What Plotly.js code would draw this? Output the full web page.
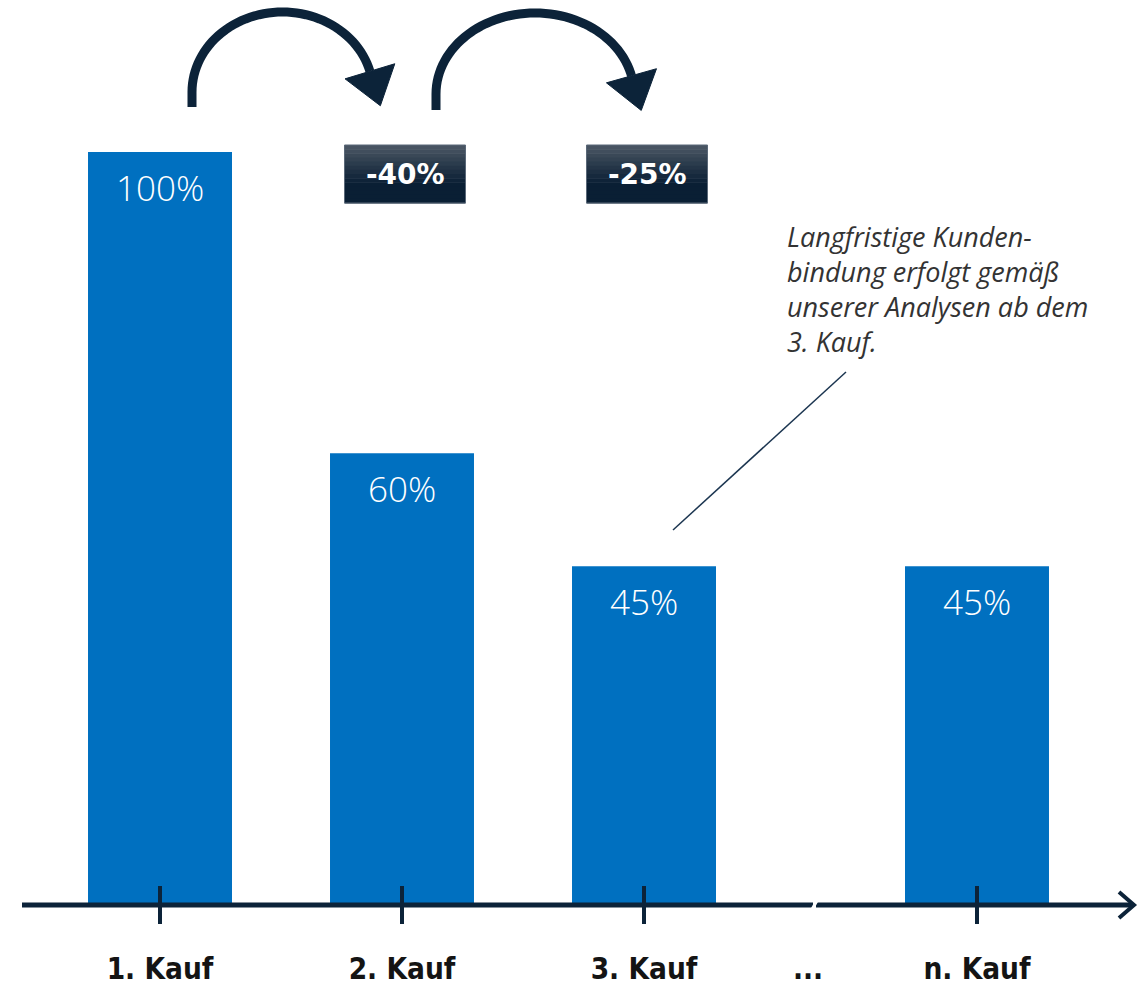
<!DOCTYPE html>
<html><head><meta charset="utf-8">
<script src="https://cdn.plot.ly/plotly-3.0.1.min.js"></script>
<style>html,body{margin:0;padding:0;background:#fff}#chart{width:1145px;height:987px}</style>
</head><body><div id="chart"></div>
<script>
// ---- data ----
const categories = ["1. Kauf", "2. Kauf", "3. Kauf", "n. Kauf"];
const values = [100, 60, 45, 45];
const gapLabel = "...";
const noteLines = ["Langfristige Kunden-", "bindung erfolgt gemäß", "unserer Analysen ab dem", "3. Kauf."];
const shownChanges = 2; // drops shown between first bars

// ---- layout geometry ----
const W = 1145, H = 987, AX = 905;          // axis pixel row
const xPos = [0, 1, 2, 3.376];
const gapPos = 2.678;
const unit = 242, x0px = 160;
const xr = [-x0px / unit, (W - x0px) / unit];
const yTop = AX / 7.53;
const NAVY = '#0c2339';
const BLUE = '#0070c0';
const px = u => x0px + u * unit;
const PX = p => p / W;                 // pixel x -> paper
const PY = p => (AX - p) / AX;         // pixel y -> paper

const shapes = [];
const annotations = [];

// axis line with break and open arrowhead
shapes.push({type:'line', xref:'paper', yref:'paper', x0:PX(22), x1:PX(813), y0:PY(AX), y1:PY(AX), line:{color:NAVY, width:5}});
shapes.push({type:'line', xref:'paper', yref:'paper', x0:PX(816), x1:PX(1133), y0:PY(AX), y1:PY(AX), line:{color:NAVY, width:5}});
shapes.push({type:'line', xref:'paper', yref:'paper', x0:PX(810), x1:PX(819), y0:PY(913), y1:PY(897), line:{color:'#ffffff', width:3}});
shapes.push({type:'path', xref:'paper', yref:'paper',
  path:`M${PX(1119)},${PY(892)} L${PX(1134)},${PY(AX)} L${PX(1119)},${PY(918)}`,
  line:{color:NAVY, width:4}});
// ticks crossing the axis
xPos.forEach(u => {
  shapes.push({type:'line', xref:'paper', yref:'paper', x0:PX(px(u)), x1:PX(px(u)), y0:PY(886), y1:PY(924), line:{color:NAVY, width:4}});
});

// curved arrows + change boxes
const arrows = [
  {lx:192, leg:107, cx:282.5, cy:92, rx:90.5, ry:80, end:15},
  {lx:436, leg:110, cx:535, cy:94, rx:99, ry:81, end:13}
];
for (let i = 0; i < shownChanges; i++) {
  const a = arrows[i];
  let pts = [[a.lx, a.leg], [a.lx, a.cy]];
  for (let d = 180; d >= a.end; d -= 3) {
    const t = d * Math.PI / 180;
    pts.push([a.cx + a.rx * Math.cos(t), a.cy - a.ry * Math.sin(t)]);
  }
  const te = a.end * Math.PI / 180;
  const E = [a.cx + a.rx * Math.cos(te), a.cy - a.ry * Math.sin(te)];
  pts.push(E);
  shapes.push({type:'path', xref:'paper', yref:'paper',
    path: 'M' + pts.map(p => `${PX(p[0])},${PY(p[1])}`).join(' L'),
    line:{color:NAVY, width:9}});
  let tx = a.rx * Math.sin(te), ty = a.ry * Math.cos(te);
  const n = Math.hypot(tx, ty); tx /= n; ty /= n;
  const nx = -ty, ny = tx;
  const b1 = [E[0] + nx * 26, E[1] + ny * 26], b2 = [E[0] - nx * 26, E[1] - ny * 26];
  const tip = [E[0] + tx * 36, E[1] + ty * 36];
  shapes.push({type:'path', xref:'paper', yref:'paper',
    path:`M${PX(b1[0])},${PY(b1[1])} L${PX(tip[0])},${PY(tip[1])} L${PX(b2[0])},${PY(b2[1])} Z`,
    fillcolor:NAVY, line:{color:NAVY, width:1}});

  // change box above target bar
  const cxp = px(xPos[i + 1]) + 3, top = 145, bot = 203, hw = 60.5;
  const steps = 14;
  for (let s = 0; s < steps; s++) {
    const f = s / (steps - 1);
    const c0 = [72, 84, 98], c1 = [10, 31, 52];
    const k = Math.min(1, f * 1.5);
    const col = `rgb(${c0.map((c, j) => Math.round(c + (c1[j] - c) * k)).join(',')})`;
    const ya = top + (bot - top) * s / steps, yb = top + (bot - top) * (s + 1) / steps + 0.5;
    shapes.push({type:'rect', xref:'paper', yref:'paper', x0:PX(cxp - hw), x1:PX(cxp + hw), y0:PY(ya), y1:PY(yb), fillcolor:col, line:{width:0}});
  }
  shapes.push({type:'rect', xref:'paper', yref:'paper', x0:PX(cxp - hw), x1:PX(cxp + hw), y0:PY(top), y1:PY(bot), line:{color:'#5a6878', width:1}});
  const ch = Math.round((values[i + 1] - values[i]) / values[i] * 100);
  annotations.push({xref:'paper', yref:'paper', x:PX(cxp), y:PY((top + bot) / 2), text:`${ch}%`, showarrow:false,
    xanchor:'center', yanchor:'middle',
    font:{family:'DejaVu Sans, Open Sans, sans-serif', size:28, weight:'bold', color:'#ffffff'}});
}

// bar value labels
values.forEach((v, i) => {
  annotations.push({xref:'x', yref:'y', x:xPos[i], y:v, yshift:-35, text:`${v}%`, showarrow:false,
    xanchor:'center', yanchor:'middle',
    font:{family:'Open Sans, Noto Sans, sans-serif', size:35, weight:300, color:'#ffffff'}});
});

// note with pointer line
annotations.push({xref:'paper', yref:'paper', x:PX(785), y:PY(289), text:noteLines.join('<br>'), showarrow:false,
  xanchor:'left', yanchor:'middle', align:'left',
  font:{family:'Open Sans, Noto Sans, sans-serif', size:27, style:'italic', color:'#333333'}});
shapes.push({type:'line', xref:'paper', yref:'paper', x0:PX(673), y0:PY(530), x1:PX(846), y1:PY(372), line:{color:'#1b3550', width:1.5}});

const trace = {
  type:'bar', x:xPos, y:values, width:0.595,
  marker:{color:BLUE, line:{width:0}},
  hoverinfo:'skip', text:categories, textposition:'none'
};

const layout = {
  width:W, height:H,
  margin:{l:0, r:0, t:0, b:H - AX},
  paper_bgcolor:'#ffffff', plot_bgcolor:'rgba(0,0,0,0)',
  showlegend:false,
  xaxis:{range:xr, tickvals:[...xPos, gapPos], ticktext:[...categories, gapLabel],
    showgrid:false, zeroline:false, showline:false, ticks:'', ticklabelstandoff:43,
    tickfont:{family:'DejaVu Sans Condensed, Liberation Sans Narrow, sans-serif', size:29.5, weight:'bold', color:'#141414'},
    fixedrange:true},
  yaxis:{range:[0, yTop], visible:false, fixedrange:true},
  shapes:shapes, annotations:annotations
};

Plotly.newPlot('chart', [trace], layout, {displayModeBar:false, staticPlot:true});
</script>
</body></html>
